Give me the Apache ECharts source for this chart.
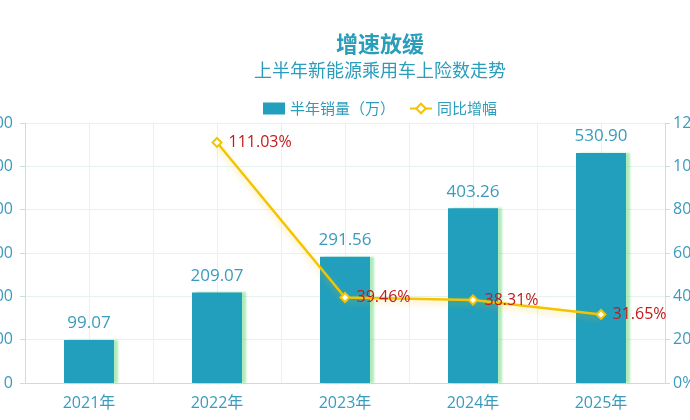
<!DOCTYPE html><html><head><meta charset="utf-8"><script src="https://cdn.jsdelivr.net/npm/echarts@6/dist/echarts.min.js"></script></head><body style="margin:0"><div id="c" style="width:690px;height:420px"></div><script>
const categories=['2021年','2022年','2023年','2024年','2025年'];
const sales=[99.07,209.07,291.56,403.26,530.90];
const growth=[null,111.03,39.46,38.31,31.65];
const ch=echarts.init(document.getElementById('c'));
const tc='#2a9dbb';
ch.setOption({
textStyle:{fontFamily:'Open Sans, Noto Sans CJK SC'},
title:{text:'增速放缓',subtext:'上半年新能源乘用车上险数走势',left:375,textAlign:'center',top:28,itemGap:6,
 textStyle:{color:tc,fontSize:22,fontWeight:'bold',fontFamily:'Noto Sans CJK SC'},
 subtextStyle:{color:tc,fontSize:18,fontFamily:'Noto Sans CJK SC'}},
legend:{top:96,left:258,itemWidth:22,itemHeight:12,itemGap:14,textStyle:{color:tc,fontSize:15,fontFamily:'Noto Sans CJK SC'},
 data:[{name:'半年销量（万）',icon:'rect'},{name:'同比增幅'}]},
grid:{left:25,right:25,top:123,bottom:37,containLabel:false,outerBoundsMode:'none'},
xAxis:[{type:'category',data:categories,axisLine:{lineStyle:{color:'#d8efe6'}},axisTick:{show:false},
 axisLabel:{color:'#3a9bbd',fontSize:16,margin:12},splitLine:{show:false}},
 {type:'value',min:0,max:10,interval:1,show:true,position:'top',axisLabel:{show:false},axisTick:{show:false},axisLine:{show:true,lineStyle:{color:'#bfe6cf'}},splitLine:{show:true,lineStyle:{color:'#e3f4f0'}}}],
yAxis:[{type:'value',min:0,max:600,interval:100,axisLabel:{color:'#3a9bbd',fontSize:16,margin:12},
 axisLine:{show:true,lineStyle:{color:'#bfe6cf'}},splitLine:{lineStyle:{color:'#e3f4f0'}}},
 {type:'value',min:0,max:120,interval:20,axisLabel:{color:'#3a9bbd',fontSize:16,formatter:'{value}%',margin:8},
 axisLine:{show:true,lineStyle:{color:'#bfe6cf'}},splitLine:{show:false}}],
series:[{name:'半年销量（万）',type:'bar',data:sales,barWidth:50,
 itemStyle:{color:'#219fbd',shadowColor:'rgba(120,220,140,0.6)',shadowOffsetX:4,shadowBlur:2},
 label:{show:true,position:'top',distance:8,color:'#3a9bbd',fontSize:17,formatter:p=>p.value.toFixed(2)}},
 {name:'同比增幅',type:'line',yAxisIndex:1,data:growth,symbol:'emptyDiamond',symbolSize:9,
 lineStyle:{color:'#f5c400',width:2.5,shadowColor:'rgba(245,196,0,0.4)',shadowBlur:6,shadowOffsetY:3},
 itemStyle:{color:'#f5c400',borderWidth:2},
 label:{show:true,position:'right',distance:6,color:'#c41a1a',fontSize:16,formatter:p=>p.value.toFixed(2)+'%'}}]
});
</script></body></html>
